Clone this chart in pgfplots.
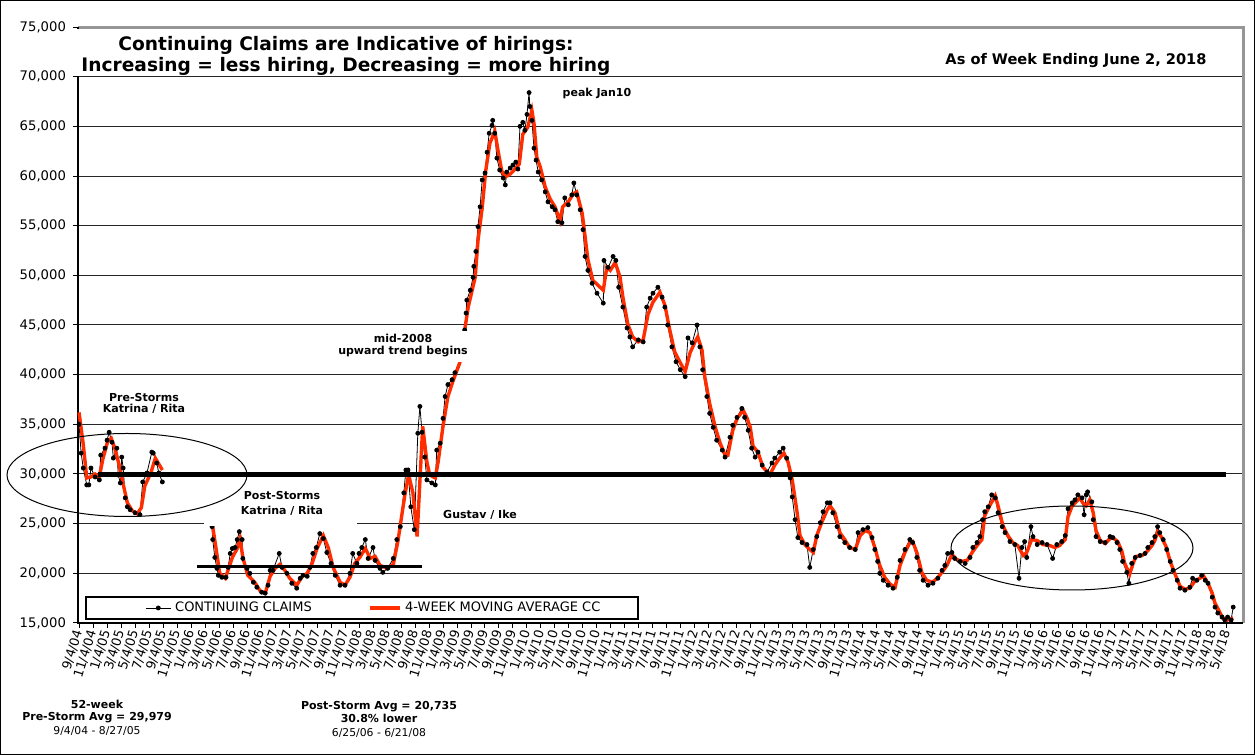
\documentclass[border=0pt]{standalone}
\usepackage{fontspec}
\setmainfont{DejaVu Sans}
\usepackage{pgfplots}
\usepackage{pgfplotstable}
\pgfplotsset{compat=1.18}
\definecolor{mared}{RGB}{255,45,0}
\definecolor{framegray}{RGB}{150,150,150}

% continuing claims, x = months since 9/4/04
\pgfplotstableread{
m v
0.0 35000
0.3 32100
0.6 30600
1.1 28900
1.4 28900
1.7 30600
2.3 29700
2.9 29400
3.1 31900
3.7 32600
4.0 33400
4.3 34200
4.7 33200
4.9 31600
5.4 32600
5.6 29900
5.9 29100
6.1 31700
6.3 30600
6.6 27600
6.9 26700
7.3 26400
8.0 26100
8.7 25900
9.1 29200
9.7 30100
10.4 32200
10.6 32100
11.1 31100
11.4 30100
11.9 29200
15.0 nan
18.8 26500
19.0 24700
19.1 23400
19.4 21600
19.7 20500
19.9 19800
20.4 19600
21.0 19600
21.3 20600
21.6 22000
21.9 22500
22.3 22600
22.6 23400
22.9 24200
23.3 23400
23.4 21500
24.0 20500
24.4 20000
24.9 19100
25.4 18600
26.1 18100
26.6 18000
27.0 18800
27.3 20300
27.7 20300
28.6 22000
29.0 20600
29.7 20000
30.4 19000
31.1 18500
31.6 19500
32.0 19800
32.6 19700
33.0 20600
33.4 22000
33.9 22600
34.4 24000
34.9 23500
35.4 22100
36.0 21000
36.6 19800
37.3 18800
38.0 18800
38.7 20000
39.1 22000
39.7 21000
40.0 22000
40.4 22600
40.9 23400
41.3 21500
42.0 22600
42.3 21300
43.0 20500
43.4 20100
44.1 20500
44.9 21500
45.4 23400
45.9 24700
46.4 28100
46.7 30400
47.0 30400
47.4 26700
47.9 24400
48.4 34100
48.7 36800
49.0 34200
49.4 31700
49.7 29400
50.4 29100
50.9 28900
51.1 32400
51.6 33100
52.0 35600
52.3 37800
52.7 39000
53.3 39500
53.7 40200
54.4 41500
55.1 44500
55.3 46200
55.4 47500
55.9 48500
56.3 49800
56.4 50900
56.7 52400
57.0 54900
57.3 56900
57.6 59600
58.0 60300
58.3 62400
58.6 64300
59.0 65100
59.1 65600
59.4 64300
59.7 61800
60.1 60600
60.6 59800
60.9 59100
61.1 60400
61.6 60800
62.0 61100
62.4 61400
62.7 60700
63.0 65000
63.4 65400
63.7 64600
64.0 66200
64.3 68400
64.4 67000
64.7 65600
65.0 62800
65.3 61600
65.6 60400
66.1 59600
66.6 58400
67.0 57400
67.6 56900
68.0 56600
68.4 55400
69.0 55300
69.4 57800
69.9 57100
70.4 58100
70.7 59300
71.1 58100
71.6 56600
72.0 54600
72.3 51900
72.7 50500
73.3 49200
74.0 48200
74.9 47200
75.0 51500
75.6 50800
76.3 51900
76.7 51500
77.1 48800
77.7 46800
78.3 44700
78.7 43800
79.1 42800
79.9 43500
80.6 43300
81.1 46800
81.6 47700
82.0 48200
82.7 48800
83.3 47800
83.7 46800
84.1 45000
84.7 42800
85.3 41300
85.9 40500
86.6 39800
87.0 43700
87.6 43200
88.3 45000
88.7 42800
89.1 40500
89.7 37800
90.1 36100
90.6 34700
91.1 33400
91.9 32400
92.3 31700
93.0 33700
93.4 34900
94.0 35700
94.7 36600
95.1 35700
95.6 34400
96.1 32600
96.6 31700
97.0 32200
97.6 30900
98.3 30200
99.0 31100
99.4 31600
100.1 32200
100.6 32600
101.1 31600
101.6 29600
101.9 27700
102.3 25400
102.7 23600
103.3 23100
104.0 22900
104.4 20600
104.9 22400
105.4 23700
105.9 25100
106.3 26200
106.9 27100
107.3 27100
107.7 26100
108.3 24700
108.7 23700
109.4 23100
110.1 22600
110.9 22400
111.3 24100
112.0 24400
112.7 24600
113.3 23600
113.7 22400
114.1 21200
114.4 20000
114.9 19300
115.6 18800
116.3 18500
116.9 19600
117.3 21300
118.0 22400
118.7 23400
119.1 23100
119.7 21600
120.1 20300
120.6 19300
121.3 18800
122.0 19000
122.7 19500
123.3 20300
123.7 20800
124.1 22000
124.7 22100
125.1 21500
125.9 21200
126.6 21000
127.3 21600
127.7 22600
128.3 23100
128.7 23700
129.1 25400
129.4 26200
129.9 26700
130.4 27900
130.9 27600
131.3 26100
131.9 24700
132.3 24100
133.0 23200
133.7 22900
134.3 19500
134.7 22600
135.1 23200
135.4 21600
136.0 24700
136.3 23700
136.9 22900
137.6 23100
138.3 22900
139.1 21500
139.7 22900
140.4 23200
140.9 23800
141.3 26500
141.9 27100
142.3 27400
142.7 27900
143.3 27600
143.6 25900
143.9 27900
144.1 28200
144.7 27200
144.9 25400
145.3 23700
145.9 23200
146.6 23100
147.3 23700
147.7 23600
148.3 23100
148.7 22400
149.1 21200
149.7 20100
150.0 19000
150.4 21000
150.9 21600
151.6 21800
152.3 22000
152.7 22600
153.3 23100
153.7 23700
154.1 24700
154.4 24100
154.9 23400
155.4 22400
155.9 21200
156.3 20300
156.9 19300
157.3 18500
158.0 18300
158.7 18600
159.1 19500
159.7 19300
160.4 19800
160.9 19300
161.3 19000
161.9 17600
162.3 16600
162.7 16000
163.3 15600
163.7 15300
164.1 15600
164.6 15300
164.9 16600
}\claims

% 4-week moving average
\pgfplotstableread{
m v
0.0 36200
0.6 33000
1.1 29600
1.7 29700
2.3 30000
2.9 29700
3.4 31500
4.1 33300
4.6 33600
5.1 32600
5.7 31000
6.3 29000
6.9 27100
7.6 26300
8.3 26000
8.9 26600
9.4 28800
10.3 30200
10.9 31600
11.4 31000
11.9 30400
15.0 nan
18.8 26500
19.1 24700
19.7 21900
20.1 20000
20.9 19500
21.9 21600
22.6 22500
23.0 23500
23.4 21600
24.1 19800
25.1 19100
25.9 18200
26.6 18000
27.3 19700
28.0 20500
28.7 20900
29.4 20300
30.1 19500
31.1 18800
31.9 19700
32.6 20000
33.3 21000
34.0 22500
34.9 23800
35.6 22600
36.3 20600
37.3 19100
38.0 18800
38.7 19600
39.4 21000
40.1 21600
40.9 22500
41.6 21500
42.3 21700
43.0 20800
44.0 20500
44.9 20900
45.6 23400
46.1 25800
46.6 28100
47.1 29900
47.7 28100
48.3 23700
48.7 29300
49.1 34800
49.7 31200
50.1 29900
50.9 29600
51.3 31200
52.0 34800
52.7 37800
53.4 39300
54.4 41200
55.1 44500
55.6 46800
56.6 49800
57.0 53500
57.6 56800
58.1 60500
58.7 63300
59.4 64500
59.9 62400
60.4 60500
60.9 59900
61.6 60200
62.3 60700
62.9 61200
63.4 64200
64.1 64900
64.7 66600
65.0 65300
65.4 61900
65.9 60900
66.6 58900
67.3 57700
68.0 56900
68.7 55500
69.1 56900
69.9 57400
70.6 58200
71.1 58400
71.9 56200
72.3 53900
72.7 51600
73.4 49500
74.9 48500
75.4 50800
75.9 50500
76.6 51300
77.3 49800
77.7 47800
78.4 45100
79.1 43800
79.9 43300
80.6 43500
81.3 46100
82.0 47300
83.0 48300
83.7 47000
84.4 44500
85.1 42300
85.9 41200
86.6 40300
87.3 42200
88.0 43300
88.4 43800
89.0 42500
89.4 39800
90.1 37100
90.9 34700
91.6 33100
92.3 31900
92.7 31900
93.4 34400
94.1 35700
94.9 36400
95.4 35700
95.9 34700
96.3 32800
97.0 32200
97.7 30700
98.7 29900
99.4 30900
100.1 31600
100.7 32100
101.3 31200
101.9 29400
102.6 26100
103.0 23800
103.7 22900
104.4 22400
104.9 22100
105.4 23800
106.1 25100
106.9 26400
107.3 26800
108.0 26100
108.7 24100
109.4 23400
110.1 22600
110.9 22400
111.6 23800
112.3 24300
113.0 24100
113.7 22600
114.4 20800
115.1 19600
115.9 18900
116.6 18600
117.3 20800
118.0 22100
118.7 23100
119.1 23200
119.7 22100
120.4 20100
121.1 19300
121.9 19100
122.6 19500
123.3 20100
124.0 20800
124.7 21900
125.4 21400
126.1 21200
126.9 21300
127.6 22100
128.3 22800
129.0 23400
129.4 25800
130.1 26800
130.9 27800
131.3 26800
132.0 24800
132.7 23800
133.4 23100
134.1 22800
134.9 21800
135.4 22100
136.1 23400
136.9 23300
137.7 22900
138.7 22800
139.4 22600
140.1 22800
140.9 23400
141.3 25700
141.9 26800
142.6 27300
143.0 27600
143.4 27100
143.9 26800
144.4 27400
144.9 26100
145.3 24300
145.9 23300
146.6 23000
147.3 23500
147.7 23600
148.4 23200
149.0 22200
149.4 21000
150.1 19900
150.6 21000
151.0 21700
151.9 21800
152.6 22200
153.3 22800
153.7 23300
154.1 24200
154.7 23600
155.3 22700
155.9 21200
156.6 19900
157.3 18700
158.0 18400
158.7 18500
159.4 19200
160.1 19500
160.7 19700
161.3 19000
161.9 18000
162.3 17000
162.9 16200
163.4 15500
164.1 15300
164.9 15500
}\movavg

\begin{document}
\begin{tikzpicture}
\useasboundingbox (0,0) rectangle (627.5pt,377.5pt);
\begin{axis}[
  at={(39pt,66pt)}, anchor=south west,
  width=582.5pt, height=298pt, scale only axis,
  clip=false,
  unbounded coords=jump,
  xmin=-0.15, xmax=166.3,
  ymin=15000, ymax=75000,
  axis line style={draw=none},
  tick align=outside,
  major tick length=2.5pt,
  tick style={black, line width=0.5pt},
  xtick pos=bottom, ytick pos=left,
  ytick={15000,20000,25000,30000,35000,40000,45000,50000,55000,60000,65000,70000,75000},
  scaled y ticks=false,
  /pgf/number format/assume math mode=true,
  yticklabel style={font=\fontsize{6.6}{8}\selectfont, /pgf/number format/.cd, fixed, 1000 sep={,}},
  xtick={0,2,...,164},
  xticklabels={9/4/04,11/4/04,1/4/05,3/4/05,5/4/05,7/4/05,9/4/05,11/4/05,1/4/06,3/4/06,5/4/06,7/4/06,9/4/06,11/4/06,1/4/07,3/4/07,5/4/07,7/4/07,9/4/07,11/4/07,1/4/08,3/4/08,5/4/08,7/4/08,9/4/08,11/4/08,1/4/09,3/4/09,5/4/09,7/4/09,9/4/09,11/4/09,1/4/10,3/4/10,5/4/10,7/4/10,9/4/10,11/4/10,1/4/11,3/4/11,5/4/11,7/4/11,9/4/11,11/4/11,1/4/12,3/4/12,5/4/12,7/4/12,9/4/12,11/4/12,1/4/13,3/4/13,5/4/13,7/4/13,9/4/13,11/4/13,1/4/14,3/4/14,5/4/14,7/4/14,9/4/14,11/4/14,1/4/15,3/4/15,5/4/15,7/4/15,9/4/15,11/4/15,1/4/16,3/4/16,5/4/16,7/4/16,9/4/16,11/4/16,1/4/17,3/4/17,5/4/17,7/4/17,9/4/17,11/4/17,1/4/18,3/4/18,5/4/18},
  xticklabel style={font=\fontsize{6.4}{8}\selectfont, rotate=73, anchor=east, inner sep=1pt},
  ymajorgrids,
  grid style={black!85, line width=0.5pt},
  legend columns=2,
  legend style={draw=none, fill=none, at={(rel axis cs:0.0575,0.0252)}, anchor=west,
    font=\fontsize{6.5}{8}\selectfont, inner sep=0pt,
    /tikz/every even column/.append style={column sep=26pt}},
]
\draw[framegray, line width=1.5pt] (rel axis cs:0,1) -- (rel axis cs:1,1) -- (rel axis cs:1,0);
\draw[black, line width=1pt] (rel axis cs:0,1) -- (rel axis cs:0,0) -- (rel axis cs:1,0);

\addplot[black, line width=0.4pt, mark=*, mark size=1pt,
  legend image code/.code={\draw[mark repeat=2, mark phase=2] plot coordinates {(0pt,0pt) (6.25pt,0pt) (12.5pt,0pt)};}]
  table[x=m, y=v] {\claims};
\addlegendentry{CONTINUING CLAIMS}
\addplot[mared, line width=1.7pt,
  legend image code/.code={\draw plot coordinates {(0pt,0pt) (15pt,0pt)};}]
  table[x=m, y=v] {\movavg};
\addlegendentry{4-WEEK MOVING AVERAGE CC}

% pre-storm and post-storm averages
\addplot[black, line width=2.5pt, forget plot] coordinates {(2.7,29979) (163.9,29979)};
\addplot[black, line width=1.5pt, forget plot] coordinates {(16.9,20735) (49.0,20735)};

\draw[black, line width=0.6pt, fill=white] (rel axis cs:0.0069,0.0067) rectangle (rel axis cs:0.4807,0.0436);
\end{axis}

% white label boxes and notes
\fill[white] (35pt,339.5pt) rectangle (309pt,363pt);
\node[align=center, font=\fontsize{9.3}{10.5}\selectfont\bfseries] at (173pt,349.75pt)
  {Continuing Claims are Indicative of hirings:\\Increasing = less hiring, Decreasing = more hiring};
\node[font=\fontsize{7.3}{9}\selectfont\bfseries] at (538pt,347pt) {As of Week Ending June 2, 2018};
\node[font=\fontsize{5.5}{6.5}\selectfont\bfseries] at (298.5pt,331pt) {peak Jan10};

\fill[white] (169pt,196.5pt) rectangle (234pt,212pt);
\node[align=center, font=\fontsize{5.5}{6}\selectfont\bfseries] at (201.5pt,204.5pt) {mid-2008\\upward trend begins};

\node[align=center, font=\fontsize{5.5}{5.6}\selectfont\bfseries] at (72pt,175.75pt) {Pre-Storms\\Katrina / Rita};

\fill[white] (102pt,114.5pt) rectangle (178.5pt,134.5pt);
\node[align=center, font=\fontsize{5.5}{7.5}\selectfont\bfseries] at (141pt,125.75pt) {Post-Storms\\Katrina / Rita};

\node[font=\fontsize{5.5}{6.5}\selectfont\bfseries] at (240pt,120pt) {Gustav / Ike};

\draw[black, line width=0.5pt] (63.5pt,140pt) ellipse [x radius=60pt, y radius=20.75pt];
\draw[black, line width=0.5pt] (536pt,103.5pt) ellipse [x radius=60.5pt, y radius=21pt];

\node[align=center, font=\fontsize{5.5}{6}\selectfont\bfseries] at (48.5pt,21.5pt) {52-week\\Pre-Storm Avg = 29,979};
\node[font=\fontsize{5.4}{6}\selectfont] at (48.5pt,12pt) {9/4/04 - 8/27/05};
\node[align=center, font=\fontsize{5.5}{6}\selectfont\bfseries] at (189.5pt,21.5pt) {Post-Storm Avg = 20,735\\30.8\% lower};
\node[font=\fontsize{5.4}{6}\selectfont] at (189.5pt,11pt) {6/25/06 - 6/21/08};

\draw[black, line width=0.5pt] (0.25pt,0.25pt) rectangle (627.25pt,377.25pt);
\end{tikzpicture}
\end{document}
